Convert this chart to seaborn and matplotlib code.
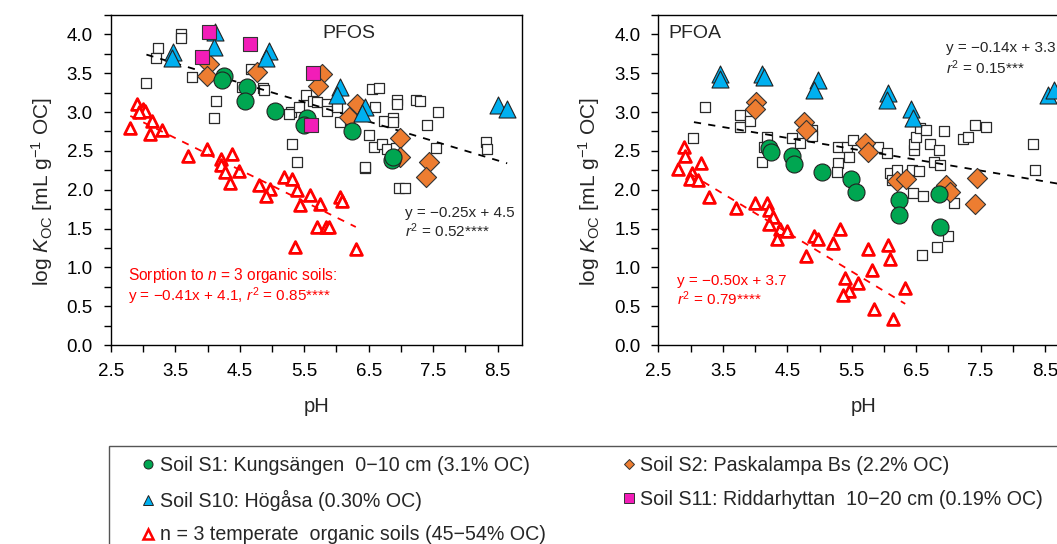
import numpy as np
import pandas as pd
import matplotlib
matplotlib.use("Agg")
import matplotlib.pyplot as plt
import seaborn as sns
from matplotlib.lines import Line2D
from matplotlib.patches import Rectangle
from matplotlib.ticker import FormatStrFormatter

# ---------------- data ----------------
# PFOS panel
pfos_s1_ph = [4.25, 4.22, 4.61, 4.58, 5.04, 5.55, 5.49, 6.24, 6.86, 6.88]
pfos_s1_k = [3.47, 3.41, 3.32, 3.14, 3.01, 2.92, 2.83, 2.76, 2.38, 2.42]

pfos_s2_ph = [4.02, 3.99, 4.77, 5.78, 5.72, 6.32, 6.19, 6.99, 6.99, 7.43, 7.39]
pfos_s2_k = [3.62, 3.46, 3.52, 3.49, 3.34, 3.11, 2.94, 2.66, 2.42, 2.36, 2.16]

pfos_s10_ph = [4.11, 4.10, 3.46, 3.45, 4.96, 4.91, 6.06, 6.01, 6.45, 6.40, 8.51, 8.64]
pfos_s10_k = [4.03, 3.84, 3.77, 3.69, 3.78, 3.69, 3.32, 3.22, 3.07, 2.99, 3.09, 3.04]

pfos_s11_ph = [4.02, 3.92, 4.66, 5.64, 5.61]
pfos_s11_k = [4.03, 3.71, 3.88, 3.50, 2.83]

pfos_org_ph = [2.90, 3.00, 3.03, 2.93, 3.13, 2.80, 3.10, 3.29, 3.70, 3.99, 4.20, 4.38,
               4.20, 4.27, 4.48, 4.34, 4.79, 4.97, 4.90, 5.19, 5.31, 5.39, 5.59, 5.44,
               5.75, 6.06, 6.09, 5.70, 5.83, 5.88, 5.36, 6.31]
pfos_org_k = [3.11, 3.04, 3.02, 3.00, 2.89, 2.79, 2.72, 2.77, 2.44, 2.53, 2.40, 2.46,
              2.32, 2.23, 2.24, 2.08, 2.06, 2.01, 1.92, 2.17, 2.14, 1.99, 1.93, 1.80,
              1.82, 1.91, 1.86, 1.52, 1.52, 1.52, 1.26, 1.24]

pfos_oth_ph = [3.23, 3.20, 3.58, 3.59, 3.05, 3.76, 4.13, 4.10, 4.67, 4.54, 4.86, 4.88,
               5.31, 5.39, 5.29, 5.27, 5.52, 5.63, 5.42, 5.70, 5.85, 5.85, 6.06, 6.01,
               6.55, 6.66, 6.60, 6.74, 6.87, 6.87, 6.94, 6.94, 7.23, 7.30, 7.57, 7.41,
               6.50, 6.58, 6.71, 6.79, 6.92, 7.54, 6.45, 6.44, 6.97, 7.07, 8.32, 8.34]
pfos_oth_k = [3.82, 3.70, 4.00, 3.95, 3.37, 3.45, 3.14, 2.92, 3.56, 3.32, 3.31, 3.29,
              2.59, 2.36, 3.00, 2.98, 3.22, 3.14, 3.07, 3.13, 3.11, 3.02, 2.87, 3.06,
              3.30, 3.31, 3.07, 2.89, 2.92, 2.87, 3.15, 3.11, 3.15, 3.14, 3.00, 2.83,
              2.71, 2.55, 2.59, 2.53, 2.54, 2.54, 2.28, 2.29, 2.02, 2.02, 2.61, 2.53]

pfos_fit_all_ph = [3.05, 8.65]
pfos_fit_all_k = [3.74, 2.34]
pfos_fit_org_ph = [2.80, 6.30]
pfos_fit_org_k = [2.95, 1.52]

# PFOA panel
pfoa_s1_ph = [4.21, 4.24, 4.57, 4.61, 5.04, 5.49, 5.57, 6.24, 6.23, 6.86, 6.87]
pfoa_s1_k = [2.54, 2.49, 2.44, 2.33, 2.23, 2.14, 1.97, 1.87, 1.68, 1.94, 1.52]

pfoa_s2_ph = [4.01, 4.00, 4.76, 4.79, 5.70, 5.75, 6.21, 6.34, 6.97, 7.02, 7.44, 7.41]
pfoa_s2_k = [3.13, 3.04, 2.87, 2.77, 2.60, 2.49, 2.11, 2.14, 2.06, 1.97, 2.15, 1.82]

pfoa_s10_ph = [3.46, 3.46, 4.10, 4.13, 4.97, 4.91, 6.07, 6.05, 6.42, 6.45, 8.55, 8.64]
pfoa_s10_k = [3.49, 3.43, 3.49, 3.45, 3.41, 3.28, 3.24, 3.15, 3.04, 2.92, 3.22, 3.28]

pfoa_org_ph = [2.90, 2.91, 3.16, 2.81, 3.02, 2.99, 3.11, 3.29, 3.70, 4.00, 4.18, 4.21,
               4.27, 4.21, 4.39, 4.49, 4.34, 4.92, 4.98, 4.79, 5.21, 5.31, 5.75, 6.06,
               6.10, 5.82, 5.40, 5.60, 5.46, 5.36, 6.32, 5.85, 6.14]
pfoa_org_k = [2.55, 2.43, 2.34, 2.27, 2.21, 2.14, 2.13, 1.91, 1.76, 1.83, 1.83, 1.74,
              1.65, 1.56, 1.50, 1.47, 1.37, 1.41, 1.36, 1.14, 1.31, 1.49, 1.23, 1.29,
              1.11, 0.97, 0.86, 0.80, 0.70, 0.65, 0.73, 0.46, 0.33]

pfoa_oth_ph = [3.22, 3.04, 3.77, 3.77, 3.92, 4.19, 4.57, 4.70, 4.88, 4.88, 4.10, 4.14,
               5.29, 5.29, 5.27, 5.42, 5.45, 5.52, 5.90, 6.05, 6.10, 6.13, 6.20, 6.43,
               6.55, 6.46, 6.46, 6.50, 6.56, 6.65, 6.72, 6.85, 6.77, 6.87, 6.93, 7.23,
               7.31, 7.41, 7.59, 8.32, 8.34, 6.45, 6.60, 7.09, 6.99, 6.83, 6.59]
pfoa_oth_k = [3.07, 2.66, 2.96, 2.81, 2.89, 2.68, 2.66, 2.60, 2.77, 2.69, 2.36, 2.55,
              2.55, 2.34, 2.23, 2.55, 2.42, 2.64, 2.55, 2.47, 2.21, 2.13, 2.25, 2.25,
              2.24, 2.51, 2.59, 2.68, 2.79, 2.77, 2.59, 2.51, 2.36, 2.32, 2.76, 2.65,
              2.68, 2.83, 2.81, 2.59, 2.25, 1.96, 1.92, 1.83, 1.41, 1.26, 1.16]

pfoa_fit_all_ph = [3.05, 8.90]
pfoa_fit_all_k = [2.87, 2.05]
pfoa_fit_org_ph = [3.00, 6.33]
pfoa_fit_org_k = [2.20, 0.53]

legend_labels = ["Soil S1: Kungsängen  0\u221210 cm (3.1% OC)",
                 "Soil S10: Högåsa (0.30% OC)",
                 "n = 3 temperate  organic soils (45\u221254% OC)",
                 "Soil S2: Paskalampa Bs (2.2% OC)",
                 "Soil S11: Riddarhyttan  10\u221220 cm (0.19% OC)"]

# ---------------- style ----------------
sns.set_style("ticks")
plt.rcParams['font.family'] = ['Liberation Sans', 'DejaVu Sans']
plt.rcParams['mathtext.fontset'] = 'custom'
plt.rcParams['mathtext.rm'] = 'Liberation Sans'
plt.rcParams['mathtext.it'] = 'Liberation Sans:italic'
plt.rcParams['mathtext.bf'] = 'Liberation Sans:bold'

GREEN = '#00A651'
ORANGE = '#ED7D31'
BLUE = '#00B0F0'
MAGENTA = '#F21DB8'
RED = '#FF0000'

W, H = 1057, 544
fig = plt.figure(figsize=(W / 100, H / 100), dpi=100)
axw = 411 / W
axh = 330 / H
axb = 1 - 345 / H
ax1 = fig.add_axes([111 / W, axb, axw, axh])
ax2 = fig.add_axes([658.5 / W, axb, axw, axh])


def draw(ax, oth, org, s1, s2, s10, s11, fit_all, fit_org):
    sns.scatterplot(x=oth[0], y=oth[1], ax=ax, marker='s', s=58, color='white',
                    edgecolor='#2a2a2a', linewidth=0.9, zorder=2)
    sns.scatterplot(x=org[0], y=org[1], ax=ax, marker='^', s=72, color='white',
                    edgecolor=RED, linewidth=2.0, zorder=3)
    sns.lineplot(x=fit_org[0], y=fit_org[1], ax=ax, color=RED, linestyle=(0, (4, 4)),
                 linewidth=1.3, zorder=4)
    sns.lineplot(x=fit_all[0], y=fit_all[1], ax=ax, color='black', linestyle=(0, (4, 4)),
                 linewidth=1.3, zorder=5)
    sns.scatterplot(x=s2[0], y=s2[1], ax=ax, marker='D', s=105, color=ORANGE,
                    edgecolor='#333333', linewidth=0.8, zorder=6)
    sns.scatterplot(x=s1[0], y=s1[1], ax=ax, marker='o', s=150, color=GREEN,
                    edgecolor='#222222', linewidth=0.8, zorder=6)
    sns.scatterplot(x=s10[0], y=s10[1], ax=ax, marker='^', s=150, color=BLUE,
                    edgecolor='#222222', linewidth=0.8, zorder=7)
    if s11 is not None:
        sns.scatterplot(x=s11[0], y=s11[1], ax=ax, marker='s', s=100, color=MAGENTA,
                        edgecolor='#333333', linewidth=0.8, zorder=8)
    ax.set_xlim(2.5, 8.88)
    ax.set_ylim(0, 4.25)
    ax.set_xticks([2.5, 3.5, 4.5, 5.5, 6.5, 7.5, 8.5])
    ax.set_xticks(np.arange(3.0, 8.6, 1.0), minor=True)
    ax.set_yticks(np.arange(0, 4.01, 0.5))
    ax.set_yticks(np.arange(0.25, 4.26, 0.5), minor=True)
    ax.xaxis.set_major_formatter(FormatStrFormatter('%.1f'))
    ax.yaxis.set_major_formatter(FormatStrFormatter('%.1f'))
    ax.tick_params(which='both', direction='out', length=5, width=1, colors='black')
    ax.tick_params(axis='x', which='major', labelsize=13.5, pad=8)
    ax.tick_params(axis='y', which='major', labelsize=13.5, pad=8)
    for sp in ax.spines.values():
        sp.set_visible(True)
        sp.set_color('black')
        sp.set_linewidth(1.0)
    ax.set_xlabel('pH', fontsize=14.5, labelpad=12)
    ax.set_ylabel('log $K_{\\mathrm{OC}}$ [mL g$^{-1}$ OC]', fontsize=15)
    ax.yaxis.set_label_coords(-0.137, 0.465)


draw(ax1, (pfos_oth_ph, pfos_oth_k), (pfos_org_ph, pfos_org_k),
     (pfos_s1_ph, pfos_s1_k), (pfos_s2_ph, pfos_s2_k), (pfos_s10_ph, pfos_s10_k),
     (pfos_s11_ph, pfos_s11_k), (pfos_fit_all_ph, pfos_fit_all_k),
     (pfos_fit_org_ph, pfos_fit_org_k))
draw(ax2, (pfoa_oth_ph, pfoa_oth_k), (pfoa_org_ph, pfoa_org_k),
     (pfoa_s1_ph, pfoa_s1_k), (pfoa_s2_ph, pfoa_s2_k), (pfoa_s10_ph, pfoa_s10_k),
     None, (pfoa_fit_all_ph, pfoa_fit_all_k), (pfoa_fit_org_ph, pfoa_fit_org_k))

# annotations
ax1.text(6.2, 4.01, 'PFOS', fontsize=14, ha='center', va='center')
ax1.text(7.06, 1.70, 'y = \u22120.25x + 4.5', fontsize=11, ha='left', va='center')
ax1.text(7.06, 1.47, '$r^2$ = 0.52****', fontsize=11, ha='left', va='center')
ax1.text(2.76, 0.89, 'Sorption to $n$ = 3 organic soils:', fontsize=11.2, color=RED,
         ha='left', va='center')
ax1.text(2.76, 0.63, 'y = \u22120.41x + 4.1, $r^2$ = 0.85****', fontsize=11, color=RED,
         ha='left', va='center')

ax2.text(2.66, 4.01, 'PFOA', fontsize=14, ha='left', va='center')
ax2.text(6.97, 3.82, 'y = \u22120.14x + 3.3', fontsize=11, ha='left', va='center')
ax2.text(6.97, 3.57, '$r^2$ = 0.15***', fontsize=11, ha='left', va='center')
ax2.text(2.79, 0.82, 'y = \u22120.50x + 3.7', fontsize=11, color=RED, ha='left', va='center')
ax2.text(2.79, 0.59, '$r^2$ = 0.79****', fontsize=11, color=RED, ha='left', va='center')

# legend
handles = [
    Line2D([], [], marker='o', linestyle='none', markersize=6.5, markerfacecolor=GREEN,
           markeredgecolor='#222222', markeredgewidth=0.7),
    Line2D([], [], marker='^', linestyle='none', markersize=6.5, markerfacecolor=BLUE,
           markeredgecolor='#222222', markeredgewidth=0.7),
    Line2D([], [], marker='^', linestyle='none', markersize=6.5, markerfacecolor='white',
           markeredgecolor=RED, markeredgewidth=1.8),
    Line2D([], [], marker='D', linestyle='none', markersize=5.5, markerfacecolor=ORANGE,
           markeredgecolor='#333333', markeredgewidth=0.7),
    Line2D([], [], marker='s', linestyle='none', markersize=7, markerfacecolor=MAGENTA,
           markeredgecolor='#333333', markeredgewidth=0.7),
]
fig.legend(handles, legend_labels, loc='upper left', ncol=2, frameon=False,
           bbox_to_anchor=(140 / W, 1 - 456 / H), fontsize=14.1, handlelength=0.8,
           handletextpad=0.2, columnspacing=3.85, labelspacing=0.75, borderaxespad=0,
           borderpad=0)
fig.patches.append(Rectangle((109 / W, 1 - 570 / H), (1080 - 109) / W, (570 - 446) / H,
                             transform=fig.transFigure, fill=False,
                             edgecolor='#555555', linewidth=1.0))

fig.savefig('out.png', dpi=100)
